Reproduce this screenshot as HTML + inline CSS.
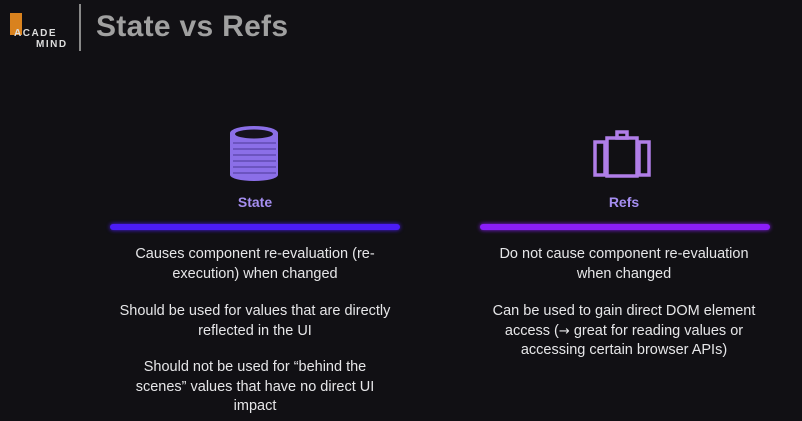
<!DOCTYPE html>
<html><head><meta charset="utf-8"><style>
body{margin:0;width:802px;height:421px;background:#111014;overflow:hidden;position:relative;font-family:"Liberation Sans",sans-serif}
.a{position:absolute}
.txt{color:#e6e6e8;font-size:14.5px;line-height:19.5px;text-align:center;width:320px}
.arr{font-family:"DejaVu Sans",sans-serif;font-size:13px}
</style></head><body>
<div class="a" style="left:7px;top:10px;width:64px;height:40px">
<div class="a" style="left:3px;top:3px;width:12px;height:22px;background:#d9821e"></div>
<div class="a" style="left:7px;top:18px;color:#ddd;font-size:10px;font-weight:bold;letter-spacing:1.5px">ACADE</div>
<div class="a" style="left:29px;top:29px;color:#ddd;font-size:10px;font-weight:bold;letter-spacing:1.5px">MIND</div>
</div>
<div class="a" style="left:79px;top:4px;width:2px;height:47px;background:#888"></div>
<div class="a" style="left:96px;top:10px;color:#a0a0a0;font-size:30px;font-weight:bold;letter-spacing:0.3px">State vs Refs</div>

<svg class="a" style="left:228px;top:125px" width="54" height="56">
<g fill="#8b6fe8"><ellipse cx="26" cy="8" rx="24" ry="7"/><rect x="2" y="8" width="48" height="42"/><ellipse cx="26" cy="50" rx="24" ry="6"/></g>
<ellipse cx="26" cy="9" rx="19" ry="4.5" fill="#15121c"/>
<g stroke="#5a45a8" stroke-width="1.2">
<line x1="5" y1="18" x2="48" y2="18"/><line x1="5" y1="24" x2="48" y2="24"/><line x1="5" y1="30" x2="48" y2="30"/><line x1="5" y1="36" x2="48" y2="36"/><line x1="5" y1="42" x2="48" y2="42"/><line x1="5" y1="48" x2="48" y2="48"/></g>
</svg>
<svg class="a" style="left:593px;top:130px" width="62" height="48">
<g fill="none" stroke="#b07ee8" stroke-width="3.5">
<rect x="2" y="12" width="10" height="33"/><rect x="14" y="8" width="30" height="38"/><rect x="46" y="12" width="10" height="33"/><rect x="24" y="2" width="10" height="6"/></g>
</svg>
<div class="a" style="left:205px;top:194px;width:100px;text-align:center;color:#a58ef0;font-weight:bold;font-size:14px">State</div>
<div class="a" style="left:574px;top:194px;width:100px;text-align:center;color:#a58ef0;font-weight:bold;font-size:14px">Refs</div>
<div class="a" style="left:110px;top:224px;width:290px;height:6px;border-radius:3px;background:#4b1cf6;box-shadow:0 0 4px #4b1cf6"></div>
<div class="a" style="left:480px;top:224px;width:290px;height:6px;border-radius:3px;background:#8a1ef8;box-shadow:0 0 4px #8a1ef8"></div>

<div class="a txt" style="left:95px;top:245px">Causes component re-evaluation (re-<br>execution) when changed</div>
<div class="a txt" style="left:95px;top:302px">Should be used for values that are directly<br>reflected in the UI</div>
<div class="a txt" style="left:95px;top:358px">Should not be used for “behind the<br>scenes” values that have no direct UI<br>impact</div>
<div class="a txt" style="left:464px;top:245px">Do not cause component re-evaluation<br>when changed</div>
<div class="a txt" style="left:464px;top:302px">Can be used to gain direct DOM element<br>access (<span class="arr">→</span> great for reading values or<br>accessing certain browser APIs)</div>
</body></html>
